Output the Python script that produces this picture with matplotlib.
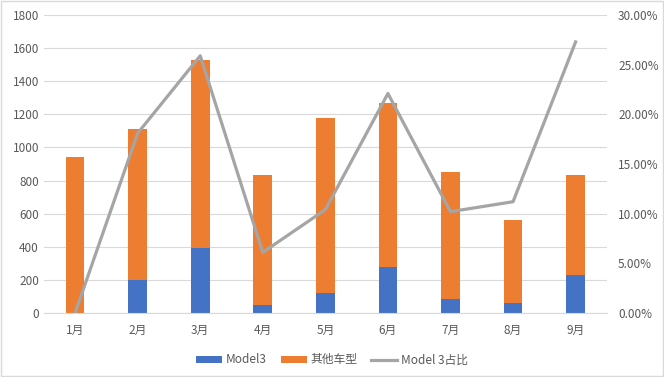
import matplotlib.pyplot as plt
import numpy as np
from matplotlib.ticker import FuncFormatter

plt.rcParams['font.family'] = ['Noto Sans CJK SC', 'DejaVu Sans']

months = ['1月', '2月', '3月', '4月', '5月', '6月', '7月', '8月', '9月']
model3 = [0, 200, 394, 48, 123, 276, 85, 59, 229]
others = [942, 911, 1134, 787, 1056, 994, 766, 503, 606]
share = [0.0, 18.1, 25.9, 6.1, 10.4, 22.1, 10.2, 11.2, 27.3]

blue = '#4472C4'
orange = '#ED7D31'
gray = '#A5A5A5'
txt = '#595959'

fig = plt.figure(figsize=(6.64, 3.77), dpi=100)
ax = fig.add_axes([0.066, 0.17, 0.848, 0.79])
x = np.arange(len(months))

b1 = ax.bar(x, model3, width=0.3, color=blue, label='Model3', zorder=2)
b2 = ax.bar(x, others, width=0.3, bottom=model3, color=orange, label='其他车型', zorder=2)
ax.set_ylim(0, 1800)
ax.set_yticks(range(0, 1801, 200))
ax.set_xlim(-0.5, len(months) - 0.5)
ax.set_xticks(x)
ax.set_xticklabels(months)
ax.grid(axis='y', color='#D9D9D9', linewidth=0.8, zorder=0)
for s in ax.spines.values():
    s.set_visible(False)
ax.spines['bottom'].set_visible(True)
ax.spines['bottom'].set_color('#D9D9D9')
ax.tick_params(length=0, colors=txt, labelsize=8.5)
ax.tick_params(axis='x', pad=8)

ax2 = ax.twinx()
l1, = ax2.plot(x, share, color=gray, linewidth=2.3, label='Model 3占比', zorder=3)
ax2.set_ylim(0, 30)
ax2.set_yticks(range(0, 31, 5))
ax2.yaxis.set_major_formatter(FuncFormatter(lambda v, p: f'{v:.2f}%'))
for s in ax2.spines.values():
    s.set_visible(False)
ax2.tick_params(length=0, colors=txt, labelsize=8.5, pad=8)

fig.legend(handles=[b1, b2, l1], loc='lower center', bbox_to_anchor=(0.5, 0.0),
           ncol=3, frameon=False, fontsize=8.5, labelcolor=txt,
           handlelength=2.2, handleheight=0.55, handletextpad=0.3, columnspacing=1.2)

fig.patches.append(plt.Rectangle((0.002, 0.003), 0.996, 0.994, transform=fig.transFigure,
                                 fill=False, edgecolor='#D9D9D9', linewidth=1))

fig.savefig('out.png', dpi=100)
